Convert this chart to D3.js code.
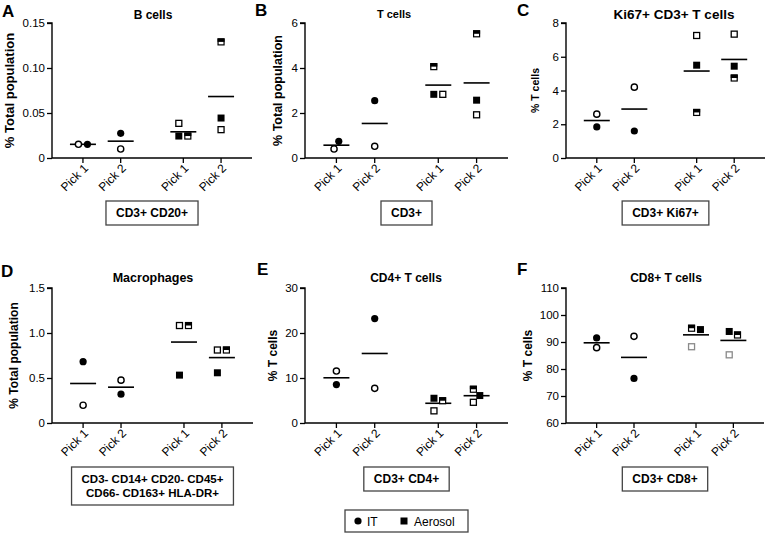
<!DOCTYPE html>
<html><head><meta charset="utf-8">
<script src="https://cdn.jsdelivr.net/npm/d3@7"></script>
<style>body{margin:0;background:#fff} svg{display:block} text{font-family:"Liberation Sans",Arial,sans-serif;fill:#000}</style>
</head><body><svg id="c" width="770" height="536"></svg>
<script>
// ---------- data ----------
const categories = ["Pick 1", "Pick 2", "Pick 1", "Pick 2"];
const routes = ["IT", "IT", "Aerosol", "Aerosol"];
// animals: 0 IT filled circle, 1 IT open circle, 2 aerosol filled square, 3 aerosol open square, 4 aerosol half square
const animals = ["IT-a", "IT-b", "Aero-a", "Aero-b", "Aero-c"];
const animalRoute = ["IT", "IT", "Aerosol", "Aerosol", "Aerosol"];
// each row = one animal, columns = Pick 1, Pick 2 (within its route)
const bCells      = [[0.0152, 0.0274], [0.0152, 0.0100], [0.0244, 0.0444], [0.0385, 0.0315], [0.0244, 0.1290]];
const tCells      = [[0.74, 2.55], [0.40, 0.52], [2.83, 2.57], [2.83, 1.92], [4.06, 5.52]];
const ki67Cells   = [[1.84, 1.60], [2.60, 4.20], [5.50, 5.44], [7.26, 7.34], [2.70, 4.74]];
const macrophages = [[0.681, 0.320], [0.197, 0.476], [0.532, 0.558], [1.083, 0.811], [1.083, 0.811]];
const cd4Cells    = [[8.55, 23.2], [11.55, 7.7], [5.50, 6.10], [2.70, 4.60], [4.95, 7.50]];
const cd8Cells    = [[91.5, 76.5], [87.9, 92.1], [94.6, 93.9], [88.25, 85.25], [95.1, 92.6]];

const yTicksA = [0, 0.05, 0.10, 0.15];
const yTicksB = [0, 2, 4, 6];
const yTicksC = [0, 2, 4, 6, 8];
const yTicksD = [0, 0.5, 1.0, 1.5];
const yTicksE = [0, 10, 20, 30];
const yTicksF = [60, 70, 80, 90, 100, 110];

const panelLetters = ["A", "B", "C", "D", "E", "F"];
const panelTitles = ["B cells", "T cells", "Ki67+ CD3+ T cells", "Macrophages", "CD4+ T cells", "CD8+ T cells"];
const yLabels = ["% Total population", "% Total population", "% T cells", "% Total population", "% T cells", "% T cells"];
const boxLabels = [["CD3+ CD20+"], ["CD3+"], ["CD3+ Ki67+"], ["CD3- CD14+ CD20- CD45+", "CD66- CD163+ HLA-DR+"], ["CD3+ CD4+"], ["CD3+ CD8+"]];
const legendLabels = ["IT", "Aerosol"];

// ---------- layout ----------
const svg = d3.select("#c");
const fmt2 = d => d === 0 ? "0" : d.toFixed(2);
const fmt1 = d => d === 0 ? "0" : d.toFixed(1);
const fmt0 = d => String(d);

const panels = [
  {data: bCells, ticks: yTicksA, f: fmt2, x0: 52, x1: 252, top: 23, bot: 158, titleX: 153, titleY: 19, titleSize: 12, labX: 14, labSize: 13, boxTop: 201, openCol: "#000", letterX: 2, letterY: 17},
  {data: tCells, ticks: yTicksB, f: fmt0, x0: 305, x1: 508, top: 23, bot: 158, titleX: 394, titleY: 18, titleSize: 11, labX: 282, labSize: 12.5, boxTop: 201, openCol: "#000", letterX: 255, letterY: 16},
  {data: ki67Cells, ticks: yTicksC, f: fmt0, x0: 566, x1: 765, top: 23, bot: 158, titleX: 674, titleY: 19, titleSize: 13.5, labX: 539, labSize: 10.5, boxTop: 201, openCol: "#000", letterX: 517, letterY: 16},
  {data: macrophages, ticks: yTicksD, f: fmt1, x0: 52, x1: 253, top: 288, bot: 423, titleX: 153, titleY: 282, titleSize: 12.5, labX: 18, labSize: 12, boxTop: 467, openCol: "#000", letterX: 1, letterY: 277},
  {data: cd4Cells, ticks: yTicksE, f: fmt0, x0: 305, x1: 508, top: 288, bot: 423, titleX: 406, titleY: 282, titleSize: 12, labX: 277, labSize: 12, boxTop: 467, openCol: "#000", letterX: 257, letterY: 275},
  {data: cd8Cells, ticks: yTicksF, f: fmt0, x0: 566, x1: 764, top: 288, bot: 423, titleX: 666, titleY: 282, titleSize: 12, labX: 532, labSize: 12, boxTop: 467, openCol: "#8a8a8a", letterX: 517, letterY: 275}
];

const slotPos = categories.map((c, i) => i + (routes[i] === "Aerosol" ? 0.66 : 0));
const S = 9; // minimum marker center distance for spreading

function swarm(pts, y) {
  const placed = [];
  pts.forEach(p => {
    const py = y(p.v);
    let cands = [0];
    placed.forEach(q => {
      const dy = Math.abs(q.py - py);
      if (dy < S) { const dx = Math.sqrt(S * S - dy * dy); cands.push(q.dx + dx, q.dx - dx); }
    });
    cands.sort((a, b) => (Math.abs(a) - Math.abs(b)) || (b - a));
    const ok = cands.find(cx => placed.every(q => Math.hypot(q.dx - cx, q.py - py) >= S - 0.01));
    placed.push(Object.assign({}, p, {py, dx: ok}));
  });
  const mn = d3.min(placed, d => d.dx), mx = d3.max(placed, d => d.dx);
  const c = (mn + mx) / 2;
  placed.forEach(d => d.dx -= c);
  return placed;
}

const tieRank = [1, 0, 0, 1, 2];

panels.forEach((P, pi) => {
  const g = svg.append("g");
  const y = d3.scaleLinear().domain([P.ticks[0], P.ticks[P.ticks.length - 1]]).range([P.bot, P.top]);
  const x = d3.scaleLinear().domain([-0.82, 4.48]).range([P.x0, P.x1]);

  // y axis
  const ya = g.append("g").attr("transform", `translate(${P.x0},0)`)
    .call(d3.axisLeft(y).tickValues(P.ticks).tickFormat(P.f).tickSize(5).tickPadding(2));
  ya.select(".domain").attr("stroke", "#000").attr("stroke-width", 1.4).attr("d", `M-5,${P.top}H0V${P.bot}`);
  ya.selectAll(".tick line").attr("stroke", "#000").attr("stroke-width", 1.3);
  ya.selectAll(".tick text").attr("font-size", 11.5).attr("fill", "#111");

  // x axis
  const xa = g.append("g").attr("transform", `translate(0,${P.bot})`);
  xa.append("line").attr("x1", P.x0).attr("x2", P.x1).attr("y1", 0).attr("y2", 0).attr("stroke", "#000").attr("stroke-width", 1.4);
  categories.forEach((c, i) => {
    const tx = x(slotPos[i]);
    xa.append("line").attr("x1", tx).attr("x2", tx).attr("y1", 0).attr("y2", 5).attr("stroke", "#000").attr("stroke-width", 1.3);
    const tg = xa.append("g").attr("transform", `translate(${tx + 6},${11})`);
    tg.append("text").attr("transform", "rotate(-45)")
      .attr("text-anchor", "end").attr("font-size", 12).attr("fill", "#111").text(c);
  });

  // y label
  g.append("text").attr("transform", `translate(${P.labX},${(P.top + P.bot) / 2}) rotate(-90)`)
    .attr("text-anchor", "middle").attr("font-size", P.labSize).attr("font-weight", "bold").text(yLabels[pi]);

  // title & letter
  g.append("text").attr("x", P.titleX).attr("y", P.titleY).attr("text-anchor", "middle")
    .attr("font-size", P.titleSize).attr("font-weight", "bold").text(panelTitles[pi]);
  g.append("text").attr("x", P.letterX).attr("y", P.letterY).attr("font-size", 17).attr("font-weight", "bold").text(panelLetters[pi]);

  // points + means
  categories.forEach((c, ci) => {
    const col = ci % 2;
    let pts = P.data.map((row, ai) => ({a: ai, v: row[col]})).filter(p => animalRoute[p.a] === routes[ci]);
    if (routes[ci] === "IT") pts.sort((a, b) => (a.v - b.v) || (tieRank[a.a] - tieRank[b.a]));
    else pts.sort((a, b) => (b.v - a.v) || (tieRank[a.a] - tieRank[b.a]));
    const placed = swarm(pts, y);
    const cx = x(slotPos[ci]);
    const m = d3.mean(pts, p => p.v);
    g.append("line").attr("x1", cx - 13).attr("x2", cx + 13).attr("y1", y(m)).attr("y2", y(m))
      .attr("stroke", "#000").attr("stroke-width", 1.6);
    placed.forEach(p => {
      const px = cx + p.dx, py = y(p.v);
      if (p.a === 0) g.append("circle").attr("cx", px).attr("cy", py).attr("r", 3.6).attr("fill", "#000");
      else if (p.a === 1) g.append("circle").attr("cx", px).attr("cy", py).attr("r", 3.1).attr("fill", "#fff").attr("stroke", "#000").attr("stroke-width", 1.4);
      else if (p.a === 2) g.append("rect").attr("x", px - 3.5).attr("y", py - 3.5).attr("width", 7).attr("height", 7).attr("fill", "#000");
      else if (p.a === 3) g.append("rect").attr("x", px - 3).attr("y", py - 3).attr("width", 6).attr("height", 6).attr("fill", "#fff").attr("stroke", P.openCol).attr("stroke-width", 1.3);
      else {
        g.append("rect").attr("x", px - 3).attr("y", py - 3).attr("width", 6).attr("height", 6).attr("fill", "#fff").attr("stroke", "#000").attr("stroke-width", 1.2);
        g.append("rect").attr("x", px - 3.5).attr("y", py - 3.5).attr("width", 7).attr("height", 3.5).attr("fill", "#000");
      }
    });
  });

  // label box
  const lines = boxLabels[pi];
  const bx = (P.x0 + P.x1) / 2;
  const bg = g.append("g");
  const lh = 14;
  const texts = lines.map((t, li) => bg.append("text").attr("x", bx).attr("y", P.boxTop + 16 + li * lh)
    .attr("text-anchor", "middle").attr("font-size", lines.length > 1 ? 11.5 : 12).attr("font-weight", "bold").text(t));
  const tw = d3.max(texts, t => t.node().getComputedTextLength());
  const bh = lines.length > 1 ? 38 : 24;
  bg.insert("rect", "text").attr("x", bx - tw / 2 - 10).attr("y", P.boxTop).attr("width", tw + 20).attr("height", bh)
    .attr("fill", "#fff").attr("stroke", "#444").attr("stroke-width", 1.3);
});

// legend
const lg = svg.append("g");
lg.append("rect").attr("x", 345).attr("y", 510).attr("width", 123).attr("height", 22).attr("fill", "#fff").attr("stroke", "#444").attr("stroke-width", 1.3);
lg.append("circle").attr("cx", 358).attr("cy", 521).attr("r", 3.6).attr("fill", "#000");
lg.append("text").attr("x", 367).attr("y", 525.5).attr("font-size", 12).text(legendLabels[0]);
lg.append("rect").attr("x", 400.5).attr("y", 517.5).attr("width", 7).attr("height", 7).attr("fill", "#000");
lg.append("text").attr("x", 414).attr("y", 525.5).attr("font-size", 12).text(legendLabels[1]);
</script></body></html>
